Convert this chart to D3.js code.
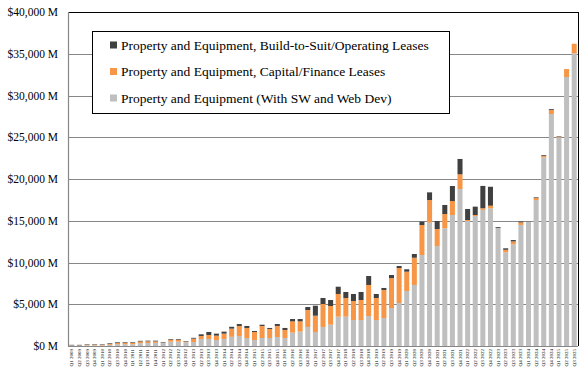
<!DOCTYPE html>
<meta charset="utf-8">
<style>
  body { margin: 0; background: #fff; }
</style>

<!-- Load d3.js -->
<script src="https://d3js.org/d3.v7.min.js"></script>

<!-- Create a div where the graph will take place -->
<div id="my_dataviz"></div>

<script>

    // quarters on the x axis
    var quarters = [
        "Q1 2009", "Q2 2009", "Q3 2009", "Q4 2009", "Q1 2010", "Q2 2010", "Q3 2010", "Q4 2010",
        "Q1 2011", "Q2 2011", "Q3 2011", "Q4 2011", "Q1 2012", "Q2 2012", "Q3 2012", "Q4 2012",
        "Q1 2013", "Q2 2013", "Q3 2013", "Q4 2013", "Q1 2014", "Q2 2014", "Q3 2014", "Q4 2014",
        "Q1 2015", "Q2 2015", "Q3 2015", "Q4 2015", "Q1 2016", "Q2 2016", "Q3 2016", "Q4 2016",
        "Q1 2017", "Q2 2017", "Q3 2017", "Q4 2017", "Q1 2018", "Q2 2018", "Q3 2018", "Q4 2018",
        "Q1 2019", "Q2 2019", "Q3 2019", "Q4 2019", "Q1 2020", "Q2 2020", "Q3 2020", "Q4 2020",
        "Q1 2021", "Q2 2021", "Q3 2021", "Q4 2021", "Q1 2022", "Q2 2022", "Q3 2022", "Q4 2022",
        "Q1 2023", "Q2 2023", "Q3 2023", "Q4 2023", "Q1 2024", "Q2 2024", "Q3 2024", "Q4 2024",
        "Q1 2025", "Q2 2025", "Q3 2025"
    ];

    // Property and Equipment (With SW and Web Dev), $M
    var propEquip = [
        60, 60, 80, 80, 80, 140, 220, 220, 220, 340, 360, 380, 380, 520, 520, 440,
        480, 840, 840, 720, 840, 1100, 1200, 960, 720, 960, 960, 1080, 960, 1600, 1720, 2280,
        1680, 2280, 2550, 3510, 3510, 3110, 3110, 3590, 3110, 3350, 4550, 5150, 6590, 7310, 10900, 14770,
        11980, 14100, 15690, 18800, 14970, 15570, 16300, 16500, 14150, 11220, 12180, 14500, 14925, 17480, 22600, 27780,
        25000, 32210, 35050
    ];

    // Property and Equipment, Capital/Finance Leases, $M
    var capLeases = [
        20, 20, 60, 60, 60, 100, 140, 140, 140, 200, 200, 180, 40, 240, 240, 100,
        400, 360, 480, 520, 640, 980, 1200, 1200, 960, 1440, 1080, 1320, 960, 1350, 1230, 2030,
        1950, 2750, 2240, 2720, 2240, 2280, 2400, 3720, 2640, 3360, 3590, 4190, 2310, 3260, 3590, 2710,
        2030, 1710, 1670, 1760, 120, 120, 200, 300, 0, 300, 340, 300, 0, 230, 180, 500,
        100, 960, 1150
    ];

    // Property and Equipment, Build-to-Suit/Operating Leases, $M
    var btsLeases = [
        60, 60, 60, 60, 60, 80, 80, 80, 80, 80, 80, 80, 60, 80, 80, 60,
        100, 200, 360, 240, 240, 220, 230, 240, 120, 150, 120, 230, 240, 280, 280, 360,
        1200, 720, 720, 870, 720, 840, 960, 1070, 480, 240, 360, 240, 290, 450, 400, 920,
        960, 1080, 1800, 1840, 1320, 1000, 2670, 2270, 100, 180, 170, 100, 45, 90, 90, 100,
        50, 0, 0
    ];

    var seriesNames = [
        "Property and Equipment (With SW and Web Dev)",
        "Property and Equipment, Capital/Finance Leases",
        "Property and Equipment, Build-to-Suit/Operating Leases"
    ];
    var seriesColors = ["#bfbfbf", "#f79646", "#404040"];

    var yTicks = [0, 5000, 10000, 15000, 20000, 25000, 30000, 35000, 40000];

    // set the dimensions and margins of the graph
    var margin = { top: 12, right: 8, bottom: 36, left: 68 },
        width = 586 - margin.left - margin.right,
        height = 382 - margin.top - margin.bottom;

    // append the svg object to the body of the page
    var root = d3.select("#my_dataviz")
        .append("svg")
        .attr("width", 586)
        .attr("height", 382);
    var svg = root.append("g")
        .attr("transform", "translate(" + margin.left + "," + margin.top + ")");

    // build the table for the stack
    var keys = ["pe", "cap", "bts"];
    var table = quarters.map(function (q, i) {
        return { q: q, pe: propEquip[i], cap: capLeases[i], bts: btsLeases[i] };
    });
    var stacked = d3.stack().keys(keys)(table);

    // X axis
    var x = d3.scaleBand()
        .domain(quarters)
        .range([0, width])
        .paddingInner(0.34)
        .paddingOuter(0.17);

    // Y axis
    var y = d3.scaleLinear()
        .domain([0, 40000])
        .range([height, 0]);

    // gridlines
    svg.append("g")
        .selectAll("line")
        .data(yTicks.slice(1, -1))
        .join("line")
        .attr("x1", 0)
        .attr("x2", width)
        .attr("y1", function (d) { return Math.round(y(d)) + 0.5; })
        .attr("y2", function (d) { return Math.round(y(d)) + 0.5; })
        .attr("stroke", "#878787")
        .attr("stroke-width", 1.2);

    // bars
    svg.append("g")
        .selectAll("g")
        .data(stacked)
        .join("g")
        .attr("fill", function (d, i) { return seriesColors[i]; })
        .selectAll("rect")
        .data(function (d) { return d; })
        .join("rect")
        .attr("x", function (d) { return x(d.data.q); })
        .attr("width", x.bandwidth())
        .attr("y", function (d) { return y(d[1]); })
        .attr("height", function (d) { return Math.max(0, y(d[0]) - y(d[1])); });

    // plot frame: black top and right, gray axis lines left and bottom
    svg.append("line")
        .attr("x1", 0).attr("x2", width + 0.5)
        .attr("y1", 0.5).attr("y2", 0.5)
        .attr("stroke", "#000");
    svg.append("line")
        .attr("x1", width + 0.5).attr("x2", width + 0.5)
        .attr("y1", 0).attr("y2", height)
        .attr("stroke", "#000");
    svg.append("line")
        .attr("x1", 0.5).attr("x2", 0.5)
        .attr("y1", 0).attr("y2", height)
        .attr("stroke", "#878787")
        .attr("stroke-width", 1.2);
    svg.append("line")
        .attr("x1", 0).attr("x2", width)
        .attr("y1", height + 0.5).attr("y2", height + 0.5)
        .attr("stroke", "#878787")
        .attr("stroke-width", 1.2);

    // y tick labels
    var fmt = d3.format(",");
    svg.append("g")
        .selectAll("text")
        .data(yTicks)
        .join("text")
        .attr("x", -10)
        .attr("y", function (d) { return y(d); })
        .attr("dy", "0.35em")
        .attr("text-anchor", "end")
        .style("font-family", "'Liberation Serif', 'DejaVu Serif', serif")
        .style("font-size", "11.5px")
        .attr("fill", "#000")
        .text(function (d) { return "$" + fmt(d) + " M"; });

    // x tick labels, rotated
    svg.append("g")
        .selectAll("text")
        .data(quarters)
        .join("text")
        .attr("transform", function (d) {
            return "translate(" + (x(d) + x.bandwidth() / 2 + 1.5) + "," + (height + 3) + ") rotate(-90)";
        })
        .attr("text-anchor", "end")
        .style("font-family", "'Liberation Serif', serif")
        .style("font-size", "5px")
        .attr("fill", "#000")
        .text(function (d) { return d; });

    // legend
    var legend = root.append("g");
    legend.append("rect")
        .attr("x", 92.5).attr("y", 31.5)
        .attr("width", 357).attr("height", 82)
        .attr("fill", "#fff")
        .attr("stroke", "#000");

    var legendOrder = [2, 1, 0];
    legendOrder.forEach(function (s, i) {
        var cy = 45 + i * 26.5;
        legend.append("rect")
            .attr("x", 110).attr("y", cy - 3.5)
            .attr("width", 7).attr("height", 7)
            .attr("fill", seriesColors[s]);
        legend.append("text")
            .attr("x", 121)
            .attr("y", cy)
            .attr("dy", "0.35em")
            .style("font-family", "'Liberation Serif', 'DejaVu Serif', serif")
            .style("font-size", "13.5px")
            .attr("fill", "#000")
            .text(seriesNames[s]);
    });

</script>
